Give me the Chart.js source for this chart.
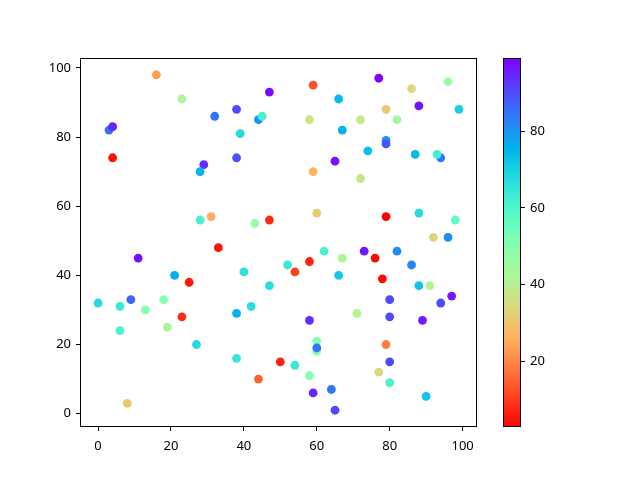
<!DOCTYPE html>
<html>
<head>
<meta charset="utf-8">
<script src="https://cdn.jsdelivr.net/npm/chart.js@4/dist/chart.umd.min.js"></script>
<style>
  body { margin: 0; background: #fff; }
  #wrap { position: relative; width: 640px; height: 480px; }
  #main { position: absolute; left: 0; top: 0; }
  #cbar { position: absolute; left: 480px; top: 0; }
</style>
</head>
<body>
<div id="wrap">
  <canvas id="main" width="640" height="480"></canvas>
  <canvas id="cbar" width="160" height="480"></canvas>
</div>
<script>
// point positions and colour values
const xs = [16, 23, 32, 3, 4, 4, 29, 28, 47, 59, 66, 38, 44, 45, 58, 67, 39, 38, 65, 59,
            77, 96, 86, 79, 88, 99, 72, 82, 79, 79, 74, 87, 94, 93, 72, 28, 31, 33, 11, 21,
            25, 0, 6, 9, 18, 43, 47, 60, 62, 67, 58, 52, 54, 40, 66, 47, 42, 79, 88, 98,
            92, 96, 73, 76, 82, 86, 78, 88, 91, 80, 97, 94, 13, 23, 6, 19, 27, 8, 38, 58,
            60, 60, 60, 38, 50, 54, 58, 44, 59, 64, 65, 71, 80, 89, 79, 80, 77, 80, 90];
const ys = [98, 91, 86, 82, 83, 74, 72, 70, 93, 95, 91, 88, 85, 86, 85, 82, 81, 74, 73, 70,
            97, 96, 94, 88, 89, 88, 85, 85, 79, 78, 76, 75, 74, 75, 68, 56, 57, 48, 45, 40,
            38, 32, 31, 33, 33, 55, 56, 58, 47, 45, 44, 43, 41, 41, 40, 37, 31, 57, 58, 56,
            51, 51, 47, 45, 47, 43, 39, 37, 37, 33, 34, 32, 30, 28, 24, 25, 20, 3, 29, 27,
            21, 18, 19, 16, 15, 14, 11, 10, 6, 7, 1, 29, 28, 27, 20, 15, 12, 9, 5];
const cs = [24, 42, 85, 85, 95, 5, 94, 75, 98, 13, 74, 90, 80, 61, 37, 75, 68, 89, 97, 27,
            99, 44, 34, 31, 97, 70, 38, 44, 80, 89, 73, 74, 84, 62, 37, 61, 26, 5, 97, 76,
            6, 68, 64, 86, 50, 46, 8, 31, 61, 42, 7, 64, 11, 66, 71, 67, 67, 3, 68, 57,
            33, 81, 96, 4, 81, 82, 4, 72, 41, 90, 96, 90, 50, 8, 60, 42, 68, 31, 75, 94,
            50, 49, 84, 65, 7, 64, 49, 15, 95, 84, 90, 41, 90, 96, 19, 90, 34, 61, 72];
const xTicks = [0, 20, 40, 60, 80, 100];
const yTicks = [0, 20, 40, 60, 80, 100];
const cTicks = [20, 40, 60, 80];

const cmin = Math.min(...cs);
const cmax = Math.max(...cs);

// matplotlib 'rainbow_r'
function rainbowR(v) {
  const n = (v - cmin) / (cmax - cmin);
  const x = 1 - n;
  const clip = t => Math.max(0, Math.min(1, t));
  const r = clip(Math.abs(2 * x - 0.5));
  const g = clip(Math.sin(Math.PI * x));
  const b = clip(Math.cos(Math.PI * x / 2));
  return 'rgb(' + Math.round(r * 255) + ',' + Math.round(g * 255) + ',' + Math.round(b * 255) + ')';
}

const font = { family: 'Noto Sans', size: 13 };

const frame = {
  id: 'frame',
  afterDraw(chart) {
    const a = chart.chartArea;
    const c = chart.ctx;
    c.save();
    c.strokeStyle = '#000';
    c.lineWidth = 1;
    c.strokeRect(Math.round(a.left) + 0.5, Math.round(a.top) + 0.5,
                 Math.round(a.right - a.left) - 1, Math.round(a.bottom - a.top) - 1);
    c.restore();
  }
};

function axis(ticks, pad, extra) {
  return Object.assign({
    type: 'linear',
    afterBuildTicks: s => { s.ticks = ticks.map(v => ({ value: v })); },
    grid: { drawOnChartArea: false, drawTicks: true, tickLength: 4, color: '#000' },
    border: { display: false },
    ticks: { color: '#000', font: font, autoSkip: false, maxRotation: 0, padding: pad }
  }, extra);
}

new Chart(document.getElementById('main'), {
  type: 'scatter',
  data: {
    datasets: [{
      data: xs.map((x, i) => ({ x: x, y: ys[i] })),
      backgroundColor: cs.map(rainbowR),
      borderWidth: 0,
      pointRadius: 4.4,
      pointHoverRadius: 4.4
    }]
  },
  options: {
    responsive: false,
    animation: false,
    devicePixelRatio: 1,
    layout: { padding: { left: 0, top: 58, right: 163, bottom: 0 } },
    plugins: { legend: { display: false }, tooltip: { enabled: false } },
    scales: {
      x: axis(xTicks, 7, { min: -4.95, max: 103.95, afterFit: s => { s.height = 53; } }),
      y: axis(yTicks, 5, { min: -3.85, max: 102.85, afterFit: s => { s.width = 80; } })
    }
  },
  plugins: [frame]
});

function gradient(context) {
  const chart = context.chart;
  const a = chart.chartArea;
  if (!a) return rainbowR(cmin);
  const g = chart.ctx.createLinearGradient(0, a.bottom, 0, a.top);
  for (let i = 0; i <= 40; i++) {
    g.addColorStop(i / 40, rainbowR(cmin + (cmax - cmin) * i / 40));
  }
  return g;
}

new Chart(document.getElementById('cbar'), {
  type: 'bar',
  data: {
    labels: ['c'],
    datasets: [{
      data: [[cmin, cmax]],
      backgroundColor: gradient,
      borderWidth: 0,
      barPercentage: 1,
      categoryPercentage: 1
    }]
  },
  options: {
    responsive: false,
    animation: false,
    devicePixelRatio: 1,
    layout: { padding: { left: 23, top: 58, right: 0, bottom: 53 } },
    plugins: { legend: { display: false }, tooltip: { enabled: false } },
    scales: {
      x: { display: false },
      y: axis(cTicks, 5, {
        position: 'right', min: cmin, max: cmax,
        afterFit: s => { s.width = 119; }
      })
    }
  },
  plugins: [frame]
});
</script>
</body>
</html>
